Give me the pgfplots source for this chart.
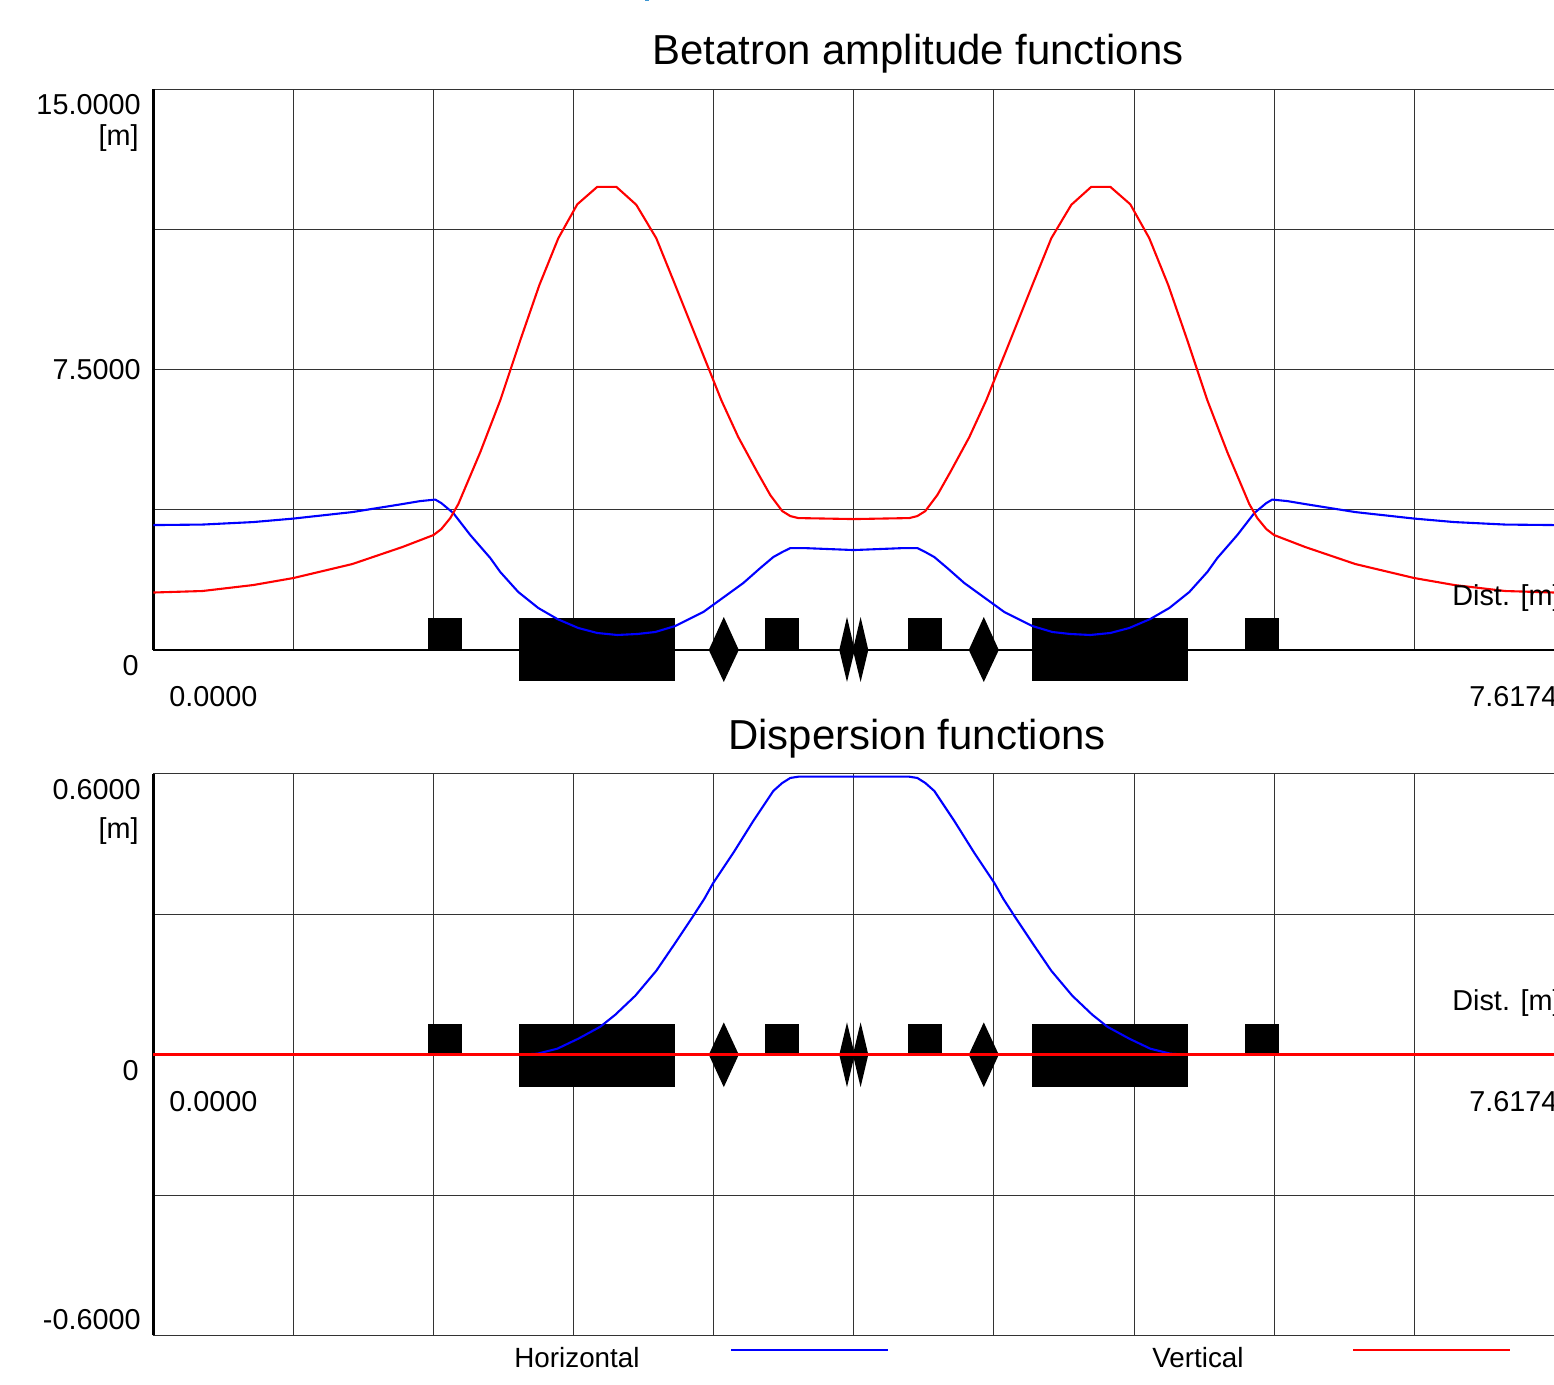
\documentclass[border=0pt]{standalone}
\usepackage{pgfplots}
\pgfplotsset{compat=1.18}
\usepackage{fontspec}
\setmainfont{Liberation Sans}
\definecolor{gridc}{gray}{0.2}
\newcommand\lab[3]{\node[anchor=base west,inner sep=0pt,font=\fontsize{14.4}{16}\selectfont] at (#1,{1385-#2}) {#3};}
\newcommand\labr[3]{\node[anchor=base east,inner sep=0pt,font=\fontsize{14.4}{16}\selectfont] at (#1,{1385-#2}) {#3};}
\newcommand\labs[3]{\node[anchor=base west,inner sep=0pt,font=\fontsize{13.9}{16}\selectfont] at (#1,{1385-#2}) {#3};}
\newcommand\ttl[3]{\node[anchor=base west,inner sep=0pt,font=\fontsize{20.95}{24}\selectfont] at (#1,{1385-#2}) {#3};}
% magnets: #1 rectangle top, #2 big rectangle bottom, #3 diamond top, #4 diamond bottom
\newcommand\magnets[4]{
  \addplot[fill=black,draw=none] coordinates {(1.4952,0)(1.6801,0)(1.6801,#1)(1.4952,#1)};
  \addplot[fill=black,draw=none] coordinates {(1.9900,#2)(2.8382,#2)(2.8382,#1)(1.9900,#1)};
  \addplot[fill=black,draw=none] coordinates {(3.0203,0)(3.1019,#3)(3.1834,0)(3.1019,#4)};
  \addplot[fill=black,draw=none] coordinates {(3.3275,0)(3.5124,0)(3.5124,#1)(3.3275,#1)};
  \addplot[fill=black,draw=none] coordinates {(3.7298,0)(3.7717,#3)(3.8136,0)(3.7717,#4)};
  \addplot[fill=black,draw=none] coordinates {(3.8038,0)(3.8457,#3)(3.8875,0)(3.8457,#4)};
  \addplot[fill=black,draw=none] coordinates {(4.1050,0)(4.2899,0)(4.2899,#1)(4.1050,#1)};
  \addplot[fill=black,draw=none] coordinates {(4.4339,0)(4.5155,#3)(4.5971,0)(4.5155,#4)};
  \addplot[fill=black,draw=none] coordinates {(4.7792,#2)(5.6274,#2)(5.6274,#1)(4.7792,#1)};
  \addplot[fill=black,draw=none] coordinates {(5.9373,0)(6.1222,0)(6.1222,#1)(5.9373,#1)};
}
\pgfplotsset{lat/.style={
  scale only axis, width=700.5pt, clip=false,
  xmin=0, xmax=7.6174,
  axis x line=box, axis y line=left, axis line style={-},
  x axis line style={line width=0.5pt,draw=gridc},
  y axis line style={line width=1.3pt,draw=black},
  xtick={0.76174,1.52348,2.28522,3.04696,3.8087,4.57044,5.33218,6.09392,6.85566},
  xticklabels={}, yticklabels={}, major tick length=0pt,
  xmajorgrids, ymajorgrids,
  grid style={line width=0.5pt,draw=gridc},
}}
\begin{document}
\begin{tikzpicture}[x=0.5pt,y=0.5pt]
\path[use as bounding box,clip] (0,0) rectangle (1554,1385);
\fill[color={rgb,255:red,60;green,150;blue,210}] (645,1383.5) rectangle (649,1385);

\begin{axis}[lat, at={(76.65pt,367.5pt)}, anchor=south west, height=280.3pt,
  ymin=0, ymax=15, ytick={3.75,7.5,11.25}]
\addplot[black,line width=1.4pt] coordinates {(0,0)(7.6174,0)};
\magnets{0.8556}{-0.8289}{0.8824}{-0.8556}
\addplot[blue,line width=1.05pt] coordinates {
(0,3.3423)(0.2664,3.3556)(0.5437,3.4225)(0.7617,3.5160)(1.0820,3.6898)(1.3538,3.9037)(1.4517,3.9840)(1.5333,4.0241)(1.5659,3.9305)(1.6311,3.6631)(1.7236,3.0749)(1.8323,2.4599)(1.8867,2.0856)(1.9845,1.5508)(2.0933,1.1230)(2.1966,0.8289)(2.3108,0.5882)(2.4141,0.4545)(2.5228,0.4011)(2.6316,0.4278)(2.7294,0.4813)(2.8382,0.6417)(2.9904,1.0160)(3.2079,1.7914)(3.3003,2.1925)(3.3710,2.4866)(3.4199,2.6203)(3.4634,2.7273)(3.5341,2.7273)(3.8087,2.6738)
(4.0833,2.7273)(4.1540,2.7273)(4.1975,2.6203)(4.2464,2.4866)(4.3171,2.1925)(4.4095,1.7914)(4.6270,1.0160)(4.7792,0.6417)(4.8880,0.4813)(4.9858,0.4278)(5.0946,0.4011)(5.2033,0.4545)(5.3066,0.5882)(5.4208,0.8289)(5.5241,1.1230)(5.6329,1.5508)(5.7307,2.0856)(5.7851,2.4599)(5.8938,3.0749)(5.9863,3.6631)(6.0515,3.9305)(6.0841,4.0241)(6.1657,3.9840)(6.2636,3.9037)(6.5354,3.6898)(6.8557,3.5160)(7.0737,3.4225)(7.3510,3.3556)(7.6174,3.3423)};
\addplot[red,line width=1.05pt] coordinates {
(0,1.5374)(0.2664,1.5775)(0.5437,1.7380)(0.7617,1.9251)(1.0820,2.2995)(1.3538,2.7540)(1.5235,3.0749)(1.5659,3.2353)(1.6148,3.5294)(1.6583,3.9037)(1.7779,5.2941)(1.8867,6.6845)(1.9954,8.2888)(2.0987,9.7594)(2.2020,11.016)(2.3053,11.925)(2.4141,12.393)(2.5174,12.393)(2.6261,11.912)(2.7349,11.016)(2.8382,9.7594)(2.9469,8.4225)(3.0448,7.2193)(3.0883,6.6845)(3.1807,5.6952)(3.2840,4.7594)(3.3547,4.1444)(3.4199,3.7166)(3.4634,3.5829)(3.5069,3.5294)(3.8087,3.5027)
(4.1105,3.5294)(4.1540,3.5829)(4.1975,3.7166)(4.2627,4.1444)(4.3334,4.7594)(4.4367,5.6952)(4.5291,6.6845)(4.5726,7.2193)(4.6705,8.4225)(4.7792,9.7594)(4.8825,11.016)(4.9913,11.912)(5.1000,12.393)(5.2033,12.393)(5.3121,11.925)(5.4154,11.016)(5.5187,9.7594)(5.6220,8.2888)(5.7307,6.6845)(5.8395,5.2941)(5.9591,3.9037)(6.0026,3.5294)(6.0515,3.2353)(6.0939,3.0749)(6.2636,2.7540)(6.5354,2.2995)(6.8557,1.9251)(7.0737,1.7380)(7.3510,1.5775)(7.6174,1.5374)};
\end{axis}

\begin{axis}[lat, at={(76.65pt,24.8pt)}, anchor=south west, height=280.7pt,
  ymin=-0.6, ymax=0.6, ytick={-0.3,0.3}]
\magnets{0.0662}{-0.0683}{0.0690}{-0.0694}
\addplot[blue,line width=1.05pt] coordinates {
(0,0)(1.9954,0)(2.0878,0.0021)(2.1966,0.0128)(2.3108,0.0342)(2.4304,0.0598)(2.5119,0.0854)(2.6207,0.1260)(2.7349,0.1794)(2.8273,0.2327)(2.9360,0.2968)(2.9958,0.3331)(3.0448,0.3673)(3.1535,0.4313)(3.2623,0.4996)(3.3710,0.5637)(3.4199,0.5808)(3.4634,0.5915)(3.5069,0.5942)(3.8087,0.5942)
(4.1105,0.5942)(4.1540,0.5915)(4.1975,0.5808)(4.2464,0.5637)(4.3551,0.4996)(4.4639,0.4313)(4.5726,0.3673)(4.6216,0.3331)(4.6814,0.2968)(4.7901,0.2327)(4.8825,0.1794)(4.9967,0.1260)(5.1055,0.0854)(5.1870,0.0598)(5.3066,0.0342)(5.4208,0.0128)(5.5296,0.0021)(5.6220,0)(7.6174,0)};
\addplot[red,line width=1.4pt] coordinates {(0,0)(7.6174,0)};
\end{axis}

\ttl{652}{65}{Betatron amplitude functions}
\ttl{728}{750}{Dispersion functions}
\labr{141}{115}{15.0000}
\labr{139}{146}{[m]}
\labr{141}{380}{7.5000}
\labr{139}{676}{0}
\lab{169}{706.5}{0.0000}
\lab{1469}{706.5}{7.6174}
\lab{1452}{605.5}{Dist. [m]}
\labr{141}{800}{0.6000}
\labr{139}{839}{[m]}
\labr{139}{1081}{0}
\labr{141}{1330}{-0.6000}
\lab{169}{1112}{0.0000}
\lab{1469}{1112}{7.6174}
\lab{1452}{1011}{Dist. [m]}
\labs{514}{1368}{Horizontal}
\labs{1152}{1368}{Vertical}
\draw[blue,line width=0.9pt] (731,35) -- (888,35);
\draw[red,line width=0.9pt] (1353,35) -- (1510,35);
\end{tikzpicture}
\end{document}
